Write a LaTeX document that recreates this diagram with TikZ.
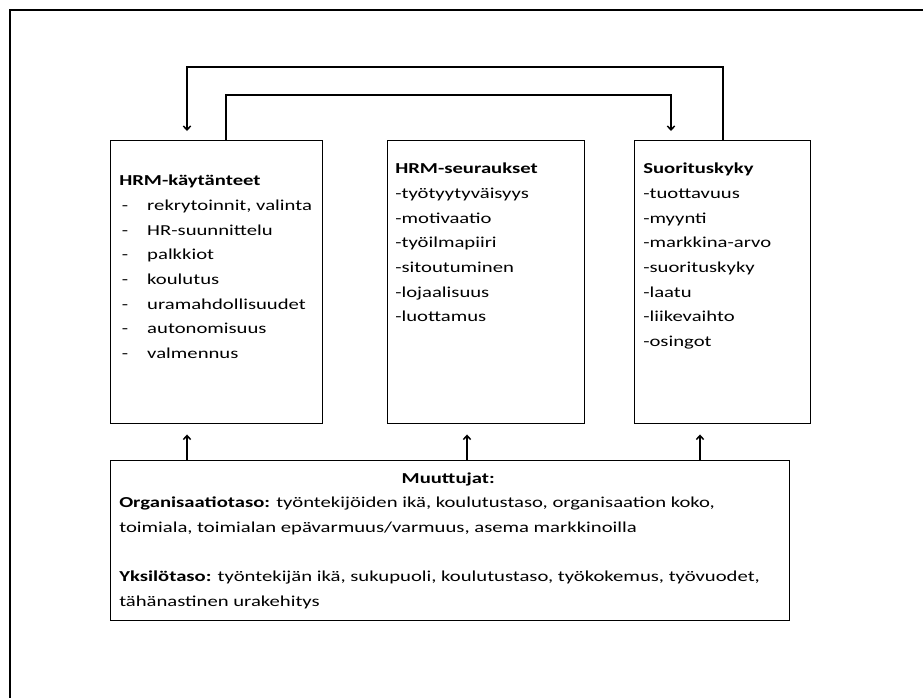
\documentclass[tikz,border=0pt]{standalone}
\usepackage{fontspec}
\setmainfont{Carlito}[FakeStretch=1.36]
\usetikzlibrary{arrows.meta,calc}
\newcommand\dashitem{\makebox[21pt][l]{\,-}}
\begin{document}
\begin{tikzpicture}[x=0.75pt,y=-0.75pt,
  box/.style={draw,line width=1.1pt,inner sep=0pt,anchor=north west},
  link/.style={line width=1.1pt,-{Straight Barb[length=3pt,width=5.5pt]}},
  txt/.style={anchor=north west,inner sep=0pt,align=left,
              font=\fontsize{11.4}{18.5}\selectfont},
]
\useasboundingbox (0,0) rectangle (923,697);
% page frame, running off the right and bottom edges
\draw[line width=1.1pt] (10,705) -- (10,10) -- (930,10);

% boxes
\node[box,minimum width=212*0.75pt,minimum height=283*0.75pt] (prac) at (110,140) {};
\node[box,minimum width=197*0.75pt,minimum height=283*0.75pt] (outc) at (387,140) {};
\node[box,minimum width=176*0.75pt,minimum height=283*0.75pt] (perf) at (634,140) {};
\node[box,minimum width=679*0.75pt,minimum height=160*0.75pt] (vars) at (110,460) {};

% box contents
\node[txt] (pracT) at (119,175) {\textbf{HRM-käytänteet}\\
  \dashitem rekrytoinnit, valinta\\
  \dashitem HR-suunnittelu\\
  \dashitem palkkiot\\
  \dashitem koulutus\\
  \dashitem uramahdollisuudet\\
  \dashitem autonomisuus\\
  \dashitem valmennus};
\node[txt] (outcT) at (395,163) {\textbf{HRM-seuraukset}\\
  -työtyytyväisyys\\
  -motivaatio\\
  -työilmapiiri\\
  -sitoutuminen\\
  -lojaalisuus\\
  -luottamus};
\node[txt] (perfT) at (643,163) {\textbf{Suorituskyky}\\
  -tuottavuus\\
  -myynti\\
  -markkina-arvo\\
  -suorituskyky\\
  -laatu\\
  -liikevaihto\\
  -osingot};
\node[txt,anchor=north] (varsH) at ($(vars.north)+(-2,13)$) {\textbf{Muuttujat:}};
\node[txt] (varsT) at (119,497) {\textbf{Organisaatiotaso:} työntekijöiden ikä, koulutustaso, organisaation koko,\\
  toimiala, toimialan epävarmuus/varmuus, asema markkinoilla\\[18.5pt]
  \textbf{Yksilötaso:} työntekijän ikä, sukupuoli, koulutustaso, työkokemus, työvuodet,\\
  tähänastinen urakehitys};

% feedback loops over the top
\draw[link] ($(perf.north west)+(89,0)$) -- ++(0,-73) -| ($(prac.north west)+(77,-9)$);
\draw[link] ($(prac.north west)+(116,0)$) -- ++(0,-45) -| ($(perf.north west)+(37,-9)$);

% influence of the variables
\draw[link] ($(vars.north west)+(77,0)$) -- ($(prac.south west)+(77,10)$);
\draw[link] ($(vars.north west)+(357,0)$) -- ($(outc.south west)+(80,10)$);
\draw[link] ($(vars.north west)+(590,0)$) -- ($(perf.south west)+(66,10)$);
\end{tikzpicture}
\end{document}
